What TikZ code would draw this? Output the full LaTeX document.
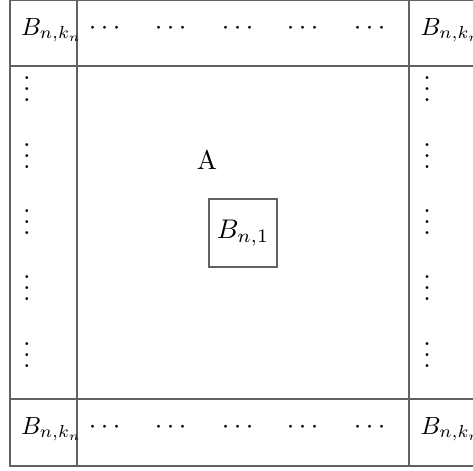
\documentclass[tikz,border=0pt]{standalone}
\usepackage{amsmath}
\begin{document}
\begin{tikzpicture}[x=0.37pt,y=-0.37pt,
  gridline/.style={draw=black!62,line width=0.45pt},
  lab/.style={inner sep=0pt,anchor=base west},
  hd/.style={inner sep=0pt,anchor=base},
  vd/.style={inner sep=0pt,anchor=base}]
\useasboundingbox (0,0) rectangle (473,470);
\newcommand{\cornerlab}{\scalebox{0.92}{$B_{n,k_n}$}}
\begin{scope}
\clip (0,0) rectangle (473,470);
\draw[gridline] (10,0.8) rectangle (476,466);
\draw[gridline] (77,0.8) -- (77,466);
\draw[gridline] (409,0.8) -- (409,466);
\draw[gridline] (10,66) -- (476,66);
\draw[gridline] (10,399) -- (476,399);
\node[lab] (tl) at (20.5,35) {\cornerlab};
\node[lab] (tr) at (420,35) {\cornerlab};
\node[lab] (bl) at (20.5,434) {\cornerlab};
\node[lab] (br) at (420,434) {\cornerlab};
\end{scope}
\foreach \x [count=\i] in {107,173,240,305,372}{
  \node[hd] (t\i) at (\x,34) {$\cdots$};
  \node[hd] (b\i) at (\x,433) {$\cdots$};
}
\foreach \y [count=\i] in {89,156,222,288,355}{
  \node[vd] (l\i) at (27,\y+12) {$\vdots$};
  \node[vd] (r\i) at (427,\y+12) {$\vdots$};
}
\node[inner sep=0pt] (A) at (207,160) {A};
\node[gridline,minimum size=68*0.37pt,inner sep=0pt] (B1) at (243,233) {$B_{n,1}$};
\end{tikzpicture}
\end{document}
